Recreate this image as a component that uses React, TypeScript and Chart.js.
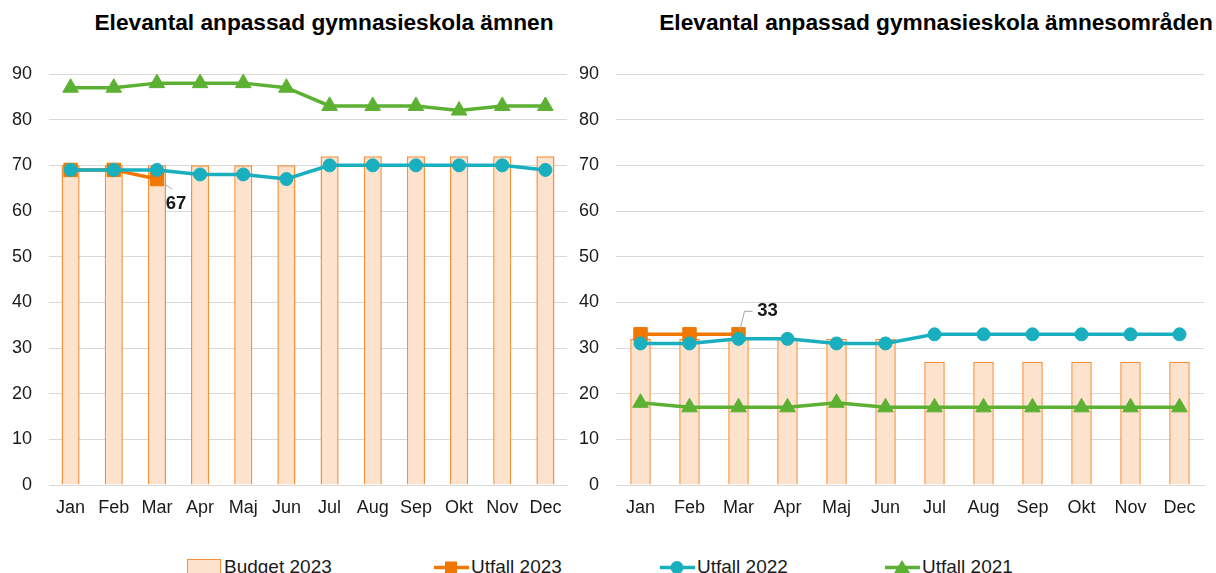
import React, { useEffect, useRef } from "react";
import { Chart, registerables } from "chart.js";

Chart.register(...registerables);

const FONT = "'Liberation Sans', Arial, Helvetica, sans-serif";

const months = ["Jan", "Feb", "Mar", "Apr", "Maj", "Jun", "Jul", "Aug", "Sep", "Okt", "Nov", "Dec"];
const yMin = 0;
const yMax = 90;
const yStep = 10;

const leftTitle = "Elevantal anpassad gymnasieskola ämnen";
const leftBudget2023 = [70, 70, 70, 70, 70, 70, 72, 72, 72, 72, 72, 72];
const leftUtfall2023 = [69, 69, 67];
const leftUtfall2022 = [69, 69, 69, 68, 68, 67, 70, 70, 70, 70, 70, 69];
const leftUtfall2021 = [87, 87, 88, 88, 88, 87, 83, 83, 83, 82, 83, 83];

const rightTitle = "Elevantal anpassad gymnasieskola ämnesområden";
const rightBudget2023 = [32, 32, 32, 32, 32, 32, 27, 27, 27, 27, 27, 27];
const rightUtfall2023 = [33, 33, 33];
const rightUtfall2022 = [31, 31, 32, 32, 31, 31, 33, 33, 33, 33, 33, 33];
const rightUtfall2021 = [18, 17, 17, 17, 18, 17, 17, 17, 17, 17, 17, 17];

const seriesNames = ["Budget 2023", "Utfall 2023", "Utfall 2022", "Utfall 2021"];

const C_BUDGET_FILL = "#FDE3CD";
const C_BUDGET_BORDER = "#F5913A";
const C_U23 = "#F07800";
const C_U22 = "#19AFBE";
const C_U21 = "#5CB133";
const C_GRID = "#D9D9D9";
const C_TEXT = "#1a1a1a";

const pointLabelPlugin = {
  id: "pointLabels",
  afterDatasetsDraw(chart: any, _args: any, opts: any) {
    const items = (opts && opts.items) || [];
    const ctx = chart.ctx;
    items.forEach((it: any) => {
      const meta = chart.getDatasetMeta(it.datasetIndex);
      const el = meta.data[it.index];
      if (!el) return;
      const { x, y } = el.getProps(["x", "y"], true);
      const value = chart.data.datasets[it.datasetIndex].data[it.index];
      ctx.save();
      ctx.strokeStyle = "#A6A6A6";
      ctx.lineWidth = 1;
      ctx.beginPath();
      it.leader.forEach((p: number[], i: number) => {
        if (i === 0) ctx.moveTo(x + p[0], y + p[1]);
        else ctx.lineTo(x + p[0], y + p[1]);
      });
      ctx.stroke();
      ctx.font = `bold 18.5px ${FONT}`;
      ctx.fillStyle = C_TEXT;
      ctx.textAlign = "center";
      ctx.textBaseline = "middle";
      ctx.fillText(String(value), x + it.dx, y + it.dy);
      ctx.restore();
    });
  },
};

function makeConfig(
  budget: number[],
  u23: number[],
  u22: number[],
  u21: number[],
  yWidth: number,
  padRight: number,
  labelItems: any[]
): any {
  const tickFont = { size: 18, family: FONT };
  return {
    type: "bar",
    data: {
      labels: months,
      datasets: [
        {
          type: "bar",
          label: seriesNames[0],
          data: budget,
          backgroundColor: C_BUDGET_FILL,
          borderColor: C_BUDGET_BORDER,
          borderWidth: 1.5,
          barPercentage: 0.42,
          categoryPercentage: 1,
          order: 10,
        },
        {
          type: "line",
          label: seriesNames[1],
          data: u23,
          borderColor: C_U23,
          backgroundColor: C_U23,
          pointBackgroundColor: C_U23,
          pointBorderColor: C_U23,
          borderWidth: 3.5,
          pointStyle: "rect",
          pointRadius: 9.5,
          pointBorderWidth: 1,
          tension: 0,
          order: 3,
        },
        {
          type: "line",
          label: seriesNames[2],
          data: u22,
          borderColor: C_U22,
          backgroundColor: C_U22,
          pointBackgroundColor: C_U22,
          pointBorderColor: C_U22,
          borderWidth: 3.5,
          pointStyle: "circle",
          pointRadius: 6.5,
          pointBorderWidth: 1,
          tension: 0,
          order: 2,
        },
        {
          type: "line",
          label: seriesNames[3],
          data: u21,
          borderColor: C_U21,
          backgroundColor: C_U21,
          pointBackgroundColor: C_U21,
          pointBorderColor: C_U21,
          borderWidth: 3.5,
          pointStyle: "triangle",
          pointRadius: 9,
          pointBorderWidth: 1,
          tension: 0,
          order: 1,
        },
      ],
    },
    options: {
      animation: false,
      responsive: false,
      maintainAspectRatio: false,
      layout: { padding: { top: 74, right: padRight, bottom: 0, left: 0 } },
      plugins: {
        legend: { display: false },
        title: { display: false },
        tooltip: { enabled: false },
        pointLabels: { items: labelItems },
      },
      scales: {
        x: {
          grid: { display: false, drawTicks: false },
          border: { display: true, color: C_GRID, width: 1 },
          ticks: { color: C_TEXT, font: tickFont, padding: 12, maxRotation: 0, autoSkip: false },
          afterFit: (s: any) => {
            s.height = 55;
          },
        },
        y: {
          min: yMin,
          max: yMax,
          ticks: { stepSize: yStep, color: C_TEXT, font: tickFont, padding: 17 },
          grid: { color: C_GRID, drawTicks: false, lineWidth: 1 },
          border: { display: false },
          afterFit: (s: any) => {
            s.width = yWidth;
          },
        },
      },
    },
    plugins: [pointLabelPlugin],
  };
}

function ChartCanvas(props: { config: () => any; left: number; width: number; height: number }) {
  const ref = useRef<HTMLCanvasElement>(null);
  useEffect(() => {
    if (!ref.current) return;
    const chart = new Chart(ref.current, props.config());
    return () => chart.destroy();
  }, []);
  return (
    <canvas
      ref={ref}
      width={props.width}
      height={props.height}
      style={{ position: "absolute", left: props.left, top: 0, width: props.width, height: props.height }}
    />
  );
}

function LineSwatch(props: { color: string; marker: string }) {
  const { color, marker } = props;
  let m: any = null;
  if (marker === "rect") m = <rect x={11} y={3.5} width={12} height={12} fill={color} />;
  if (marker === "circle") m = <circle cx={17} cy={9.5} r={6.5} fill={color} />;
  if (marker === "triangle") m = <polygon points="17,2 25,15 9,15" fill={color} />;
  return (
    <svg width={35} height={19} style={{ display: "block" }}>
      <line x1={0} y1={9.5} x2={35} y2={9.5} stroke={color} strokeWidth={3.5} />
      {m}
    </svg>
  );
}

export default function App() {
  const legendStyle: any = {
    position: "absolute",
    top: 556,
    display: "flex",
    alignItems: "center",
    fontFamily: FONT,
    fontSize: 19,
    color: C_TEXT,
    lineHeight: "22px",
    whiteSpace: "nowrap",
  };
  const titleStyle: any = {
    position: "absolute",
    top: 8,
    transform: "translateX(-50%)",
    fontFamily: FONT,
    fontWeight: "bold",
    fontSize: 22.7,
    lineHeight: "28px",
    color: "#000",
    whiteSpace: "nowrap",
  };
  return (
    <div
      style={{
        position: "absolute",
        left: 0,
        top: 0,
        width: 1216,
        height: 573,
        overflow: "hidden",
        background: "#fff",
      }}
    >
      <div style={{ ...titleStyle, left: 324 }}>{leftTitle}</div>
      <div style={{ ...titleStyle, left: 936 }}>{rightTitle}</div>
      <ChartCanvas
        left={0}
        width={580}
        height={540}
        config={() =>
          makeConfig(leftBudget2023, leftUtfall2023, leftUtfall2022, leftUtfall2021, 49, 13, [
            { datasetIndex: 1, index: 2, dx: 19, dy: 24.5, leader: [[5, 3], [15, 10]] },
          ])
        }
      />
      <ChartCanvas
        left={560}
        width={656}
        height={540}
        config={() =>
          makeConfig(rightBudget2023, rightUtfall2023, rightUtfall2022, rightUtfall2021, 56, 12, [
            { datasetIndex: 1, index: 2, dx: 29, dy: -23.5, leader: [[1, -3], [6, -23], [14, -23]] },
          ])
        }
      />
      <div style={{ ...legendStyle, left: 187 }}>
        <div
          style={{
            width: 32,
            height: 14,
            background: C_BUDGET_FILL,
            border: `1.5px solid ${C_BUDGET_BORDER}`,
            marginRight: 3,
          }}
        />
        <span>{seriesNames[0]}</span>
      </div>
      <div style={{ ...legendStyle, left: 434 }}>
        <LineSwatch color={C_U23} marker="rect" />
        <span style={{ marginLeft: 2 }}>{seriesNames[1]}</span>
      </div>
      <div style={{ ...legendStyle, left: 660 }}>
        <LineSwatch color={C_U22} marker="circle" />
        <span style={{ marginLeft: 2 }}>{seriesNames[2]}</span>
      </div>
      <div style={{ ...legendStyle, left: 885 }}>
        <LineSwatch color={C_U21} marker="triangle" />
        <span style={{ marginLeft: 2 }}>{seriesNames[3]}</span>
      </div>
    </div>
  );
}
